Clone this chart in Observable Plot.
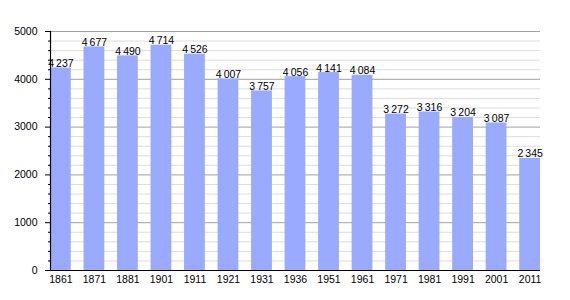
<!DOCTYPE html>
<html><head><meta charset="utf-8">
<script src="https://cdn.jsdelivr.net/npm/d3@7"></script>
<script src="https://cdn.jsdelivr.net/npm/@observablehq/plot@0.6"></script>
<style>body{margin:0;background:#fff;} svg{font-family:"Liberation Sans",Arial,sans-serif;}</style>
</head><body><div id="chart"></div>
<script>
const years = ["1861","1871","1881","1901","1911","1921","1931","1936","1951","1961","1971","1981","1991","2001","2011"];
const population = [4237,4677,4490,4714,4526,4007,3757,4056,4141,4084,3272,3316,3204,3087,2345];
const majorTicks = [0,1000,2000,3000,4000,5000];
const minorTicks = d3.range(0, 5001, 200).filter(v => v % 1000 !== 0);

const data = years.map((y,i) => ({year: y, pop: population[i]}));
const fmt = v => d3.format(",")(v).replace(",", "\u2009");

const chart = Plot.plot({
  width: 570, height: 300,
  marginLeft: 50, marginRight: 30, marginTop: 31, marginBottom: 30,
  style: {fontSize: "10.5px", fontFamily: "Liberation Sans, Arial, sans-serif", color: "#000"},
  x: {domain: years, paddingInner: 0.38, paddingOuter: 0, round: false, label: null},
  y: {domain: [0, 5000], label: null},
  marks: [
    Plot.ruleY(minorTicks, {stroke: "#dddddd", strokeWidth: 1}),
    Plot.ruleY(majorTicks, {stroke: "#a0a0a0", strokeWidth: 1}),
    Plot.barY(data, {x: "year", y: "pop", fill: "#99aaff", insetLeft: 0, insetRight: 0}),
    Plot.text(data, {x: "year", y: "pop", text: d => fmt(d.pop), lineAnchor: "bottom", dy: -1, fill: "#000", fontSize: 10.5}),
    Plot.axisY(minorTicks, {tickSize: 2, text: null, stroke: "#000"}),
    Plot.axisY(majorTicks, {tickSize: 5, tickPadding: 8, tickFormat: d => String(d), stroke: "#000"}),
    Plot.axisX({tickSize: 0, tickPadding: 5}),
    Plot.frame({anchor: "left", stroke: "#000", strokeWidth: 1.2}),
    Plot.ruleY([0], {stroke: "#000", strokeWidth: 1.2})
  ]
});
document.getElementById("chart").appendChild(chart);
</script></body></html>
